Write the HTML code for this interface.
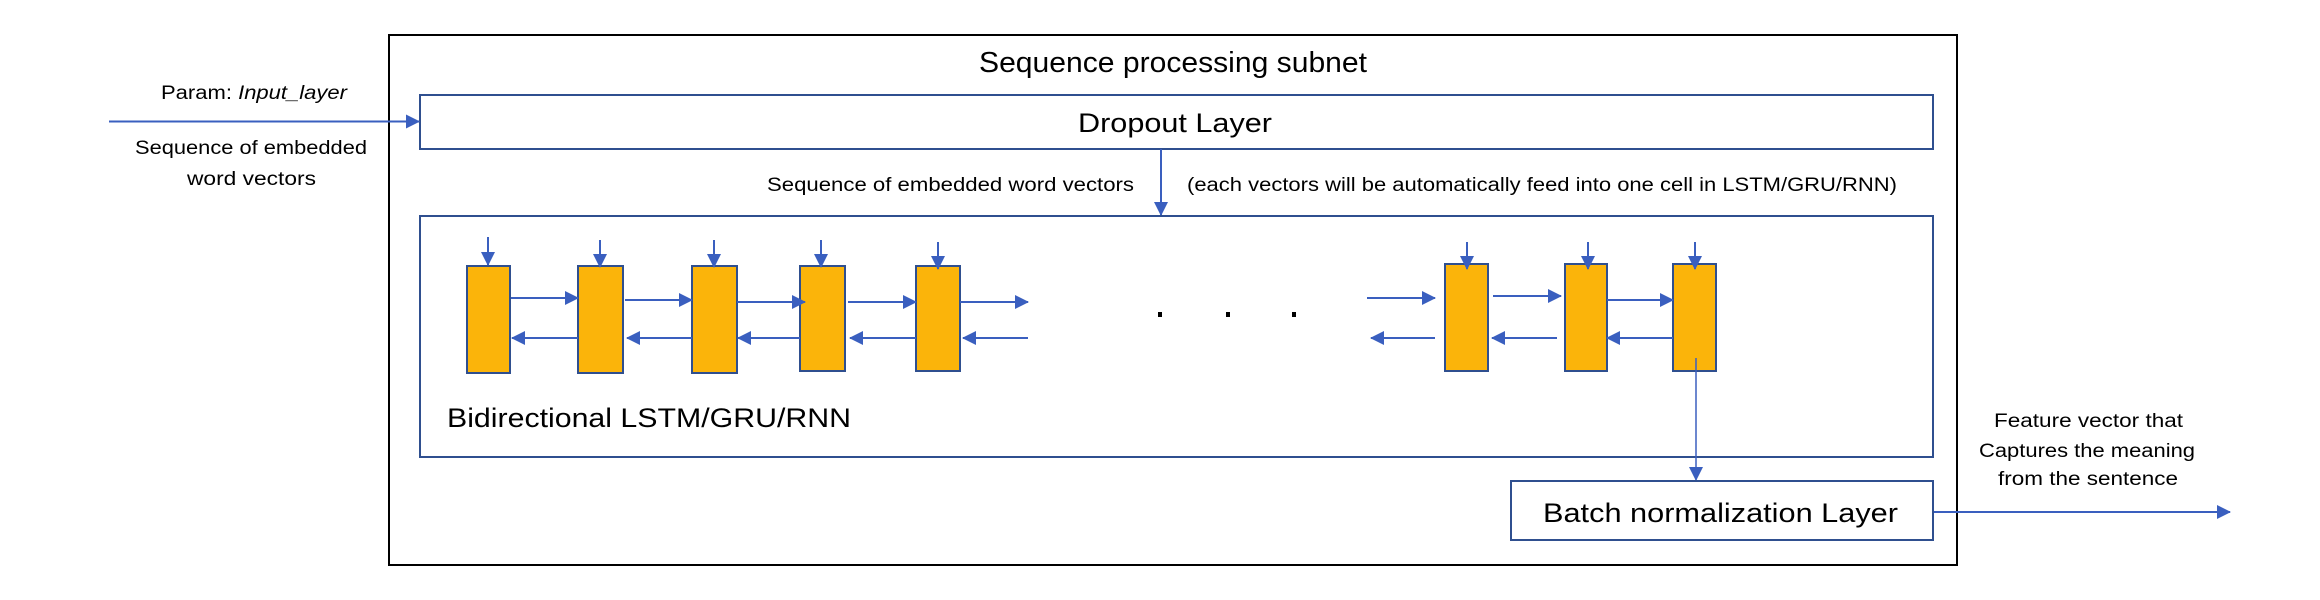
<!DOCTYPE html>
<html><head><meta charset="utf-8"><style>
html,body{margin:0;padding:0;background:#fff;}
svg{display:block;}
text{font-family:"Liberation Sans",sans-serif;fill:#000;}
</style></head><body>
<svg width="2320" height="600" viewBox="0 0 2320 600" xmlns="http://www.w3.org/2000/svg">
<defs>
<marker id="ah" markerWidth="14" markerHeight="14" refX="13" refY="7" orient="auto" markerUnits="userSpaceOnUse">
<path d="M0,0 L14,7 L0,14 z" fill="#3A5FBF"/>
</marker>
</defs>
<rect x="0" y="0" width="2320" height="600" fill="#fff"/>
<rect x="389" y="35" width="1568" height="530" fill="none" stroke="#000" stroke-width="2"/>
<text x="979" y="72" font-size="29" textLength="388" lengthAdjust="spacingAndGlyphs">Sequence processing subnet</text>
<rect x="420" y="95" width="1513" height="54" fill="none" stroke="#2F4F8F" stroke-width="2"/>
<text x="1078" y="132" font-size="27" textLength="194" lengthAdjust="spacingAndGlyphs">Dropout Layer</text>
<line x1="109" y1="121.5" x2="419" y2="121.5" stroke="#3A5FBF" stroke-width="2" marker-end="url(#ah)"/>
<text x="161" y="99" font-size="19" textLength="186" lengthAdjust="spacingAndGlyphs">Param: <tspan font-style="italic">Input_layer</tspan></text>
<text x="135" y="154" font-size="19" textLength="232" lengthAdjust="spacingAndGlyphs">Sequence of embedded</text>
<text x="187" y="185" font-size="19" textLength="129" lengthAdjust="spacingAndGlyphs">word vectors</text>
<line x1="1161" y1="149" x2="1161" y2="215" stroke="#3A5FBF" stroke-width="2" marker-end="url(#ah)"/>
<text x="767" y="191" font-size="19" textLength="367" lengthAdjust="spacingAndGlyphs">Sequence of embedded word vectors</text>
<text x="1187" y="191" font-size="19" textLength="710" lengthAdjust="spacingAndGlyphs">(each vectors will be automatically feed into one cell in LSTM/GRU/RNN)</text>
<rect x="420" y="216" width="1513" height="241" fill="none" stroke="#2F4F8F" stroke-width="2"/>
<g fill="#FBB40A" stroke="#2F4F8F" stroke-width="2">
<rect x="467" y="266" width="43" height="107"/>
<rect x="578" y="266" width="45" height="107"/>
<rect x="692" y="266" width="45" height="107"/>
<rect x="800" y="266" width="45" height="105"/>
<rect x="916" y="266" width="44" height="105"/>
<rect x="1445" y="264" width="43" height="107"/>
<rect x="1565" y="264" width="42" height="107"/>
<rect x="1673" y="264" width="43" height="107"/>
</g>
<g stroke="#3A5FBF" stroke-width="2" marker-end="url(#ah)">
<line x1="488" y1="237" x2="488" y2="265"/>
<line x1="600" y1="240" x2="600" y2="267"/>
<line x1="714" y1="240" x2="714" y2="267"/>
<line x1="821" y1="240" x2="821" y2="267"/>
<line x1="938" y1="242" x2="938" y2="269"/>
<line x1="1467" y1="242" x2="1467" y2="269"/>
<line x1="1588" y1="242" x2="1588" y2="269"/>
<line x1="1695" y1="242" x2="1695" y2="269"/>
<line x1="511" y1="298" x2="578" y2="298"/>
<line x1="625" y1="300" x2="692" y2="300"/>
<line x1="737" y1="302" x2="805" y2="302"/>
<line x1="848" y1="302" x2="916" y2="302"/>
<line x1="960" y1="302" x2="1028" y2="302"/>
<line x1="1367" y1="298" x2="1435" y2="298"/>
<line x1="1493" y1="296" x2="1561" y2="296"/>
<line x1="1607" y1="300" x2="1673" y2="300"/>
<line x1="578" y1="338" x2="512" y2="338"/>
<line x1="692" y1="338" x2="627" y2="338"/>
<line x1="800" y1="338" x2="738" y2="338"/>
<line x1="916" y1="338" x2="850" y2="338"/>
<line x1="1028" y1="338" x2="963" y2="338"/>
<line x1="1435" y1="338" x2="1371" y2="338"/>
<line x1="1557" y1="338" x2="1492" y2="338"/>
<line x1="1673" y1="338" x2="1607" y2="338"/>
<line x1="1696" y1="358" x2="1696" y2="480" stroke-width="1.5"/>
<line x1="1933" y1="512" x2="2230" y2="512"/>
</g>
<g fill="#000">
<rect x="1158" y="312" width="4" height="5"/>
<rect x="1226" y="312" width="4" height="5"/>
<rect x="1292" y="312" width="4" height="5"/>
</g>
<text x="447" y="427" font-size="27" textLength="404" lengthAdjust="spacingAndGlyphs">Bidirectional LSTM/GRU/RNN</text>
<rect x="1511" y="481" width="422" height="59" fill="none" stroke="#2F4F8F" stroke-width="2"/>
<text x="1543" y="522" font-size="27" textLength="355" lengthAdjust="spacingAndGlyphs">Batch normalization Layer</text>
<text x="1994" y="427" font-size="19" textLength="189" lengthAdjust="spacingAndGlyphs">Feature vector that</text>
<text x="1979" y="457" font-size="19" textLength="216" lengthAdjust="spacingAndGlyphs">Captures the meaning</text>
<text x="1998" y="485" font-size="19" textLength="180" lengthAdjust="spacingAndGlyphs">from the sentence</text>
</svg>
</body></html>
